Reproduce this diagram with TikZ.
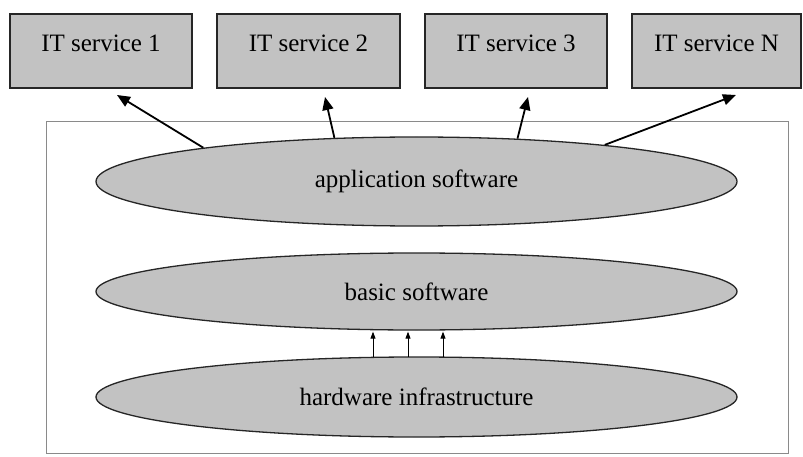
\documentclass[tikz,border=0pt]{standalone}
\usepackage{fontspec}
\setmainfont{Liberation Serif}
\usetikzlibrary{arrows.meta,calc}
\definecolor{shade}{HTML}{C2C2C2}
\definecolor{frame}{HTML}{8A8A8A}
\tikzset{
  svcbox/.style={draw=black!85, line width=1.4pt, fill=shade, minimum height=74pt, inner sep=0pt},
  layer/.style={ellipse, draw=black!85, line width=1.3pt, fill=shade, minimum width=641pt, inner sep=0pt, font=\fontsize{25}{28}\selectfont},
  bigarrow/.style={line width=1.8pt, -{Triangle[length=13pt,width=11pt]}},
  smallarrow/.style={line width=0.9pt, -{Triangle[length=7pt,width=5pt]}},
  boxlabel/.style={font=\fontsize{25}{28}\selectfont, yshift=8pt}
}
\usetikzlibrary{shapes.geometric}
\begin{document}
\begin{tikzpicture}[x=1pt,y=-1pt]
\useasboundingbox (0,0) rectangle (803,457);
\fill[white] (0,0) rectangle (803,457);
\node[draw=frame, line width=0.8pt, minimum width=742pt, minimum height=332pt, inner sep=0pt] (frm) at (417,287) {};
\node[svcbox, minimum width=182pt, label={[boxlabel]center:IT service 1}] (s1) at (101,51) {};
\node[svcbox, minimum width=183pt, label={[boxlabel]center:IT service 2}] (s2) at (308.5,51) {};
\node[svcbox, minimum width=182pt, label={[boxlabel]center:IT service 3}] (s3) at (516,51) {};
\node[svcbox, minimum width=169pt, label={[boxlabel]center:IT service N}] (s4) at (716.5,51) {};
\node[layer, minimum height=89pt] (app) at (416.5,181.5) {application software};
\node[layer, minimum height=77pt] (bas) at (416.5,291.5) {basic software};
\node[layer, minimum height=80pt] (hw) at (416.5,397) {hardware infrastructure};
\coordinate (t1) at (117,95);
\coordinate (t2) at (325,97);
\coordinate (t3) at (528,97);
\coordinate (t4) at (736,95);
\draw[bigarrow] (app.171) -- (t1);
\draw[bigarrow] (app.152) -- (t2);
\draw[bigarrow] (app.23) -- (t3);
\draw[bigarrow] (app.11) -- (t4);
\foreach \dx in {-43.5,-8.5,26.5}{
  \draw[smallarrow] ($(hw.north)+(\dx,0.8)$) -- ($(bas.south)+(\dx,1)$);
}
\end{tikzpicture}
\end{document}
